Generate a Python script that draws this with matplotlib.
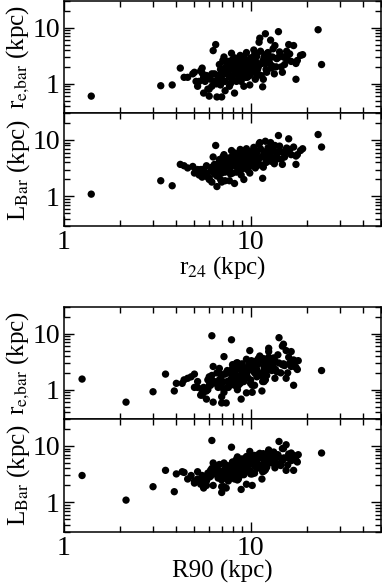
import matplotlib as mpl
mpl.use('Agg')
import matplotlib.pyplot as plt
import matplotlib.ticker as mticker
import numpy as np

# per-galaxy sizes (kpc)
r24 = [4.6, 5.0, 5.2, 5.5, 5.6, 5.8, 6.0, 6.1, 6.2, 6.4,
       6.5, 6.6, 6.7, 6.8, 6.9, 7.0, 7.1, 7.2, 7.3, 7.4,
       7.5, 7.6, 7.7, 7.8, 7.9, 8.0, 8.1, 8.2, 8.3, 8.4,
       8.5, 8.6, 8.7, 8.8, 8.9, 9.0, 9.1, 9.2, 9.3, 9.4,
       9.5, 9.6, 9.7, 9.8, 9.9, 10.0, 10.2, 10.4, 10.6, 10.8,
       11.0, 11.2, 11.4, 11.6, 11.8, 12.0, 12.3, 12.6, 12.9, 13.2,
       13.5, 13.8, 14.1, 14.4, 14.8, 15.2, 15.6, 16.0, 16.5, 17.0,
       7.0, 7.4, 7.8, 8.2, 8.6, 9.0, 9.4, 9.8, 10.3, 10.9,
       5.4, 5.9, 6.3, 6.8, 7.6, 8.4, 8.9, 9.6, 11.1, 12.2,
       6.6, 7.2, 8.0, 8.8, 9.3, 10.1, 10.7, 11.5, 12.8, 14.0,
       5.7, 6.2, 7.3, 8.1, 8.7, 9.5, 10.5, 11.3, 13.0, 15.0,
       6.9, 7.7, 8.5, 9.2, 9.9, 10.6, 11.9, 13.4, 14.6, 16.2,
       4.9, 5.3, 6.0, 6.7, 7.5, 8.3, 9.1, 10.0, 11.7, 12.5,
       7.1, 7.9, 8.6, 9.4, 10.4, 11.0, 12.1, 13.7, 15.4, 17.5,
       7.3, 7.8, 8.3, 8.8, 9.2, 9.7, 10.2, 10.8, 11.6, 12.4,
       6.4, 7.0, 7.6, 8.2, 9.0, 9.9, 10.9, 11.8, 13.1, 14.3,
       5.1, 5.6, 6.5, 7.4, 8.0, 8.7, 9.5, 10.5, 12.0, 15.8,
       1.4, 3.3, 3.8, 4.2, 4.4, 23.0, 24.0, 17.8, 18.5, 19.0, 17.5, 5.5]

R90 = [4.0, 4.6, 5.5, 5.0, 5.8, 5.2, 6.3, 6.0, 5.6, 7.0,
       9.9, 7.0, 6.5, 7.5, 5.8, 7.4, 6.0, 8.5, 6.7, 7.8,
       6.8, 8.2, 7.2, 7.0, 9.5, 8.6, 7.4, 8.9, 9.0, 8.0,
       8.0, 9.2, 8.4, 10.5, 7.6, 9.8, 8.8, 10.2, 9.6, 8.3,
       11.0, 8.8, 10.0, 9.0, 11.5, 10.8, 9.4, 11.8, 10.2, 12.0,
       10.5, 15.0, 11.8, 9.5, 12.5, 7.9, 13.0, 12.0, 11.0, 14.0,
       12.5, 14.8, 14.2, 13.5, 15.5, 13.0, 16.0, 15.5, 17.5, 16.5,
       7.5, 6.8, 8.5, 7.8, 9.2, 8.4, 10.0, 9.0, 11.2, 10.0,
       4.8, 5.5, 7.2, 6.1, 8.0, 7.5, 9.5, 10.6, 12.5, 13.5,
       5.6, 7.9, 8.8, 8.1, 10.3, 9.0, 11.5, 10.8, 14.8, 15.0,
       5.2, 5.9, 7.0, 8.8, 9.8, 8.6, 11.0, 12.5, 13.8, 16.2,
       6.2, 7.0, 9.3, 10.0, 8.9, 11.8, 12.8, 12.0, 15.8, 17.0,
       4.4, 5.0, 5.4, 6.4, 6.6, 7.8, 8.0, 10.8, 10.5, 13.2,
       6.3, 8.3, 7.7, 8.7, 11.2, 12.2, 11.4, 14.5, 16.8, 17.8,
       8.0, 7.1, 9.1, 9.6, 8.5, 10.8, 9.8, 11.6, 12.9, 11.7,
       6.1, 8.2, 6.9, 9.0, 8.2, 9.3, 12.2, 11.0, 14.2, 13.3,
       5.6, 6.8, 5.9, 8.7, 7.3, 9.4, 9.1, 10.1, 13.6, 15.2,
       2.15, 3.0, 3.9, 3.5, 4.3, 6.2, 24.0, 16.5, 17.5, 18.0, 17.0, 1.25]

re_bar = [1.3, 1.6, 0.9, 1.9, 0.68, 1.4, 0.6, 1.2, 0.9, 1.1,
          5.0, 0.58, 1.3, 2.2, 0.95, 0.58, 1.7, 3.0, 1.1, 2.0,
          1.5, 2.5, 0.9, 1.8, 3.5, 1.2, 2.0, 0.68, 1.6, 2.8,
          1.9, 1.4, 2.3, 3.2, 1.1, 2.6, 1.7, 0.9, 2.1, 1.5,
          3.6, 1.3, 2.4, 1.8, 0.95, 2.9, 1.6, 2.2, 1.2, 3.1,
          2.0, 6.5, 1.4, 0.88, 2.7, 7.8, 3.5, 2.4, 1.9, 4.2,
          4.8, 2.8, 8.5, 3.3, 1.6, 2.2, 3.8, 5.0, 2.5, 4.8,
          1.4, 2.4, 1.0, 2.1, 1.6, 3.0, 1.3, 2.5, 1.9, 1.5,
          1.7, 0.8, 3.9, 1.2, 2.1, 1.1, 1.8, 2.6, 5.5, 1.6,
          1.0, 1.6, 2.7, 1.3, 2.2, 1.9, 3.4, 2.3, 6.0, 2.9,
          1.1, 1.5, 0.75, 2.3, 2.9, 1.7, 2.0, 3.8, 2.1, 3.0,
          1.8, 1.3, 1.7, 2.8, 1.4, 2.6, 3.2, 1.5, 2.0, 3.4,
          1.5, 1.1, 0.8, 1.4, 2.0, 1.5, 2.4, 1.7, 1.2, 2.8,
          2.6, 1.9, 1.2, 1.6, 4.0, 2.2, 1.8, 2.0, 2.9, 2.3,
          1.9, 1.4, 2.5, 1.7, 3.0, 2.0, 2.7, 1.4, 2.5, 3.6,
          1.5, 1.2, 1.9, 2.9, 1.3, 2.2, 1.8, 2.9, 3.0, 3.7,
          1.1, 1.3, 1.0, 1.5, 1.9, 2.4, 1.5, 3.3, 2.3, 2.7,
          0.6, 0.92, 0.95, 1.9, 1.3, 9.2, 2.2, 2.6, 3.2, 3.3, 1.2, 1.55]

L_bar = [3.2, 2.6, 3.0, 2.2, 2.4, 3.5, 2.0, 2.8, 1.8, 2.5,
         8.0, 1.5, 3.8, 4.5, 2.0, 1.8, 3.2, 5.5, 2.7, 4.2,
         3.6, 4.8, 1.9, 3.3, 6.5, 2.6, 4.0, 1.7, 3.5, 5.2,
         4.6, 3.1, 5.0, 6.8, 2.4, 5.6, 3.9, 2.0, 4.4, 3.4,
         7.0, 3.0, 5.2, 4.1, 2.6, 6.2, 3.7, 4.9, 3.2, 6.0,
         4.5, 9.0, 3.6, 2.1, 5.5, 9.5, 6.5, 5.1, 4.2, 7.0,
         8.0, 5.5, 12.0, 6.3, 3.7, 5.0, 7.2, 10.5, 5.5, 7.5,
         3.3, 4.7, 2.5, 4.3, 3.7, 5.8, 3.2, 5.3, 4.5, 3.6,
         3.0, 2.2, 5.0, 2.9, 4.3, 2.7, 4.0, 5.4, 8.5, 4.1,
         2.3, 3.6, 5.3, 3.0, 4.7, 4.2, 6.3, 5.0, 9.0, 6.1,
         2.6, 3.3, 1.9, 4.6, 5.6, 3.8, 4.4, 7.0, 4.8, 6.0,
         4.0, 3.0, 3.9, 5.8, 3.4, 5.4, 6.1, 3.8, 4.6, 6.8,
         3.4, 2.4, 2.1, 3.2, 4.4, 3.6, 5.1, 4.0, 3.3, 5.8,
         5.0, 4.1, 2.9, 3.5, 7.4, 4.8, 4.0, 4.5, 6.6, 5.2,
         4.6, 3.4, 5.6, 4.2, 6.4, 4.6, 5.8, 3.5, 5.1, 7.3,
         3.7, 2.6, 3.5, 5.9, 3.1, 4.8, 4.2, 6.0, 6.3, 7.8,
         2.7, 2.9, 2.8, 3.1, 4.0, 5.3, 4.3, 6.6, 5.0, 6.1,
         1.1, 1.9, 1.55, 3.7, 3.5, 12.5, 7.5, 5.5, 6.5, 7.0, 3.7, 3.0]

plt.rcParams.update({'font.family': 'Liberation Serif', 'font.size': 18,
                     'mathtext.fontset': 'stix'})

fig = plt.figure(figsize=(3.82, 5.83), dpi=100)
L, W = 0.1675, 0.830
ax1 = fig.add_axes([L, 0.8062, W, 0.1921])
ax2 = fig.add_axes([L, 0.6123, W, 0.1938])
ax3 = fig.add_axes([L, 0.2813, W, 0.1921])
ax4 = fig.add_axes([L, 0.0875, W, 0.1938])

panels = [(ax1, r24, re_bar, r'r$_{\rm e{,}bar}$ (kpc)'),
          (ax2, r24, L_bar, r'L$_{\rm Bar}$ (kpc)'),
          (ax3, R90, re_bar, r'r$_{\rm e{,}bar}$ (kpc)'),
          (ax4, R90, L_bar, r'L$_{\rm Bar}$ (kpc)')]

for ax, x, y, lab in panels:
    ax.scatter(x, y, s=28, c='black', edgecolors='none')
    ax.set_xscale('log')
    ax.set_yscale('log')
    ax.set_xlim(1, 50)
    ax.set_ylim(0.3, 30)
    ax.xaxis.set_major_locator(mticker.FixedLocator([1, 10]))
    ax.yaxis.set_major_locator(mticker.FixedLocator([1, 10]))
    ax.xaxis.set_minor_locator(mticker.LogLocator(subs=np.arange(2, 10)))
    ax.yaxis.set_minor_locator(mticker.LogLocator(subs=np.arange(2, 10)))
    ax.xaxis.set_major_formatter(mticker.FixedFormatter(['1', '10']))
    ax.yaxis.set_major_formatter(mticker.FixedFormatter(['1', '10']))
    ax.xaxis.set_minor_formatter(mticker.NullFormatter())
    ax.yaxis.set_minor_formatter(mticker.NullFormatter())
    ax.tick_params(which='both', direction='in', top=True, right=True, width=1)
    ax.tick_params(which='major', length=7, labelsize=20, pad=3)
    ax.tick_params(which='minor', length=4)
    ax.set_ylabel(lab, labelpad=0)
    for s in ax.spines.values():
        s.set_linewidth(1.1)

ax1.tick_params(labelbottom=False)
ax3.tick_params(labelbottom=False)
ax2.set_xlabel(r'r$_{24}$ (kpc)', labelpad=-1)
ax4.set_xlabel('R90 (kpc)', labelpad=-1)

fig.savefig('out.png', dpi=100)
